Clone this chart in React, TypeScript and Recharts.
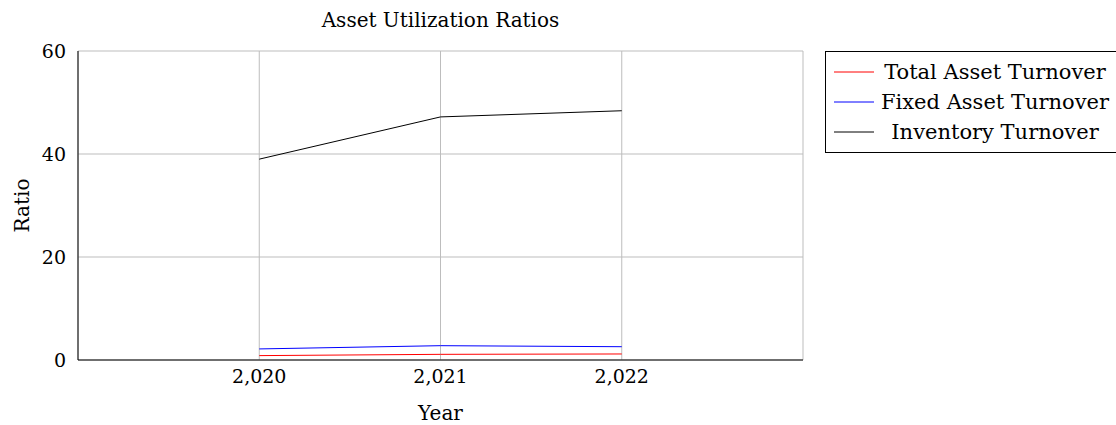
import React from 'react';
import { LineChart, Line, XAxis, YAxis, CartesianGrid, Label } from 'recharts';

const years = [2020, 2021, 2022];
const totalAssetTurnover = [0.85, 1.1, 1.17];
const fixedAssetTurnover = [2.15, 2.78, 2.58];
const inventoryTurnover = [39.0, 47.2, 48.4];
const yTicks = [0, 20, 40, 60];

const data = years.map((year, i) => ({
  year,
  total: totalAssetTurnover[i],
  fixed: fixedAssetTurnover[i],
  inventory: inventoryTurnover[i],
}));

const FONT = '"DejaVu Serif", "Liberation Serif", serif';

const legendItems = [
  { name: 'Total Asset Turnover', color: '#ff0000' },
  { name: 'Fixed Asset Turnover', color: '#0000ff' },
  { name: 'Inventory Turnover', color: '#000000' },
];

// legend drawn outside the svg so it doesn't shrink the plot
function LegendBox() {
  return (
    <div
      style={{
        position: 'absolute',
        left: 825,
        top: 51,
        width: 291,
        height: 102,
        border: '1px solid #000',
        borderRight: 'none',
        background: '#fff',
        padding: '5px 0 0 8px',
        fontSize: 21,
        boxSizing: 'border-box',
      }}
    >
      {legendItems.map((item) => (
        <div
          key={item.name}
          style={{ display: 'flex', alignItems: 'center', height: 30 }}
        >
          <svg width={40} height={4} style={{ flex: 'none' }}>
            <line x1={0} x2={40} y1={2} y2={2} stroke={item.color} strokeWidth={1} />
          </svg>
          <span style={{ flex: 1, textAlign: 'center', whiteSpace: 'nowrap' }}>
            {item.name}
          </span>
        </div>
      ))}
    </div>
  );
}

export default function App() {
  return (
    <div
      style={{
        position: 'absolute',
        left: 0,
        top: 0,
        width: 1116,
        height: 425,
        background: '#fff',
        fontFamily: FONT,
      }}
    >
      <div
        style={{
          position: 'absolute',
          left: 78,
          width: 725,
          top: 8,
          textAlign: 'center',
          fontSize: 20,
        }}
      >
        Asset Utilization Ratios
      </div>
      <LineChart
        width={1116}
        height={425}
        data={data}
        margin={{ top: 51, right: 313, bottom: 35, left: 18 }}
        style={{ fontFamily: FONT }}
      >
        <CartesianGrid stroke="#bdbdbd" strokeWidth={1} />
        <XAxis
          dataKey="year"
          type="number"
          domain={[2019, 2023]}
          ticks={years}
          tickFormatter={(v) => Number(v).toLocaleString('en-US')}
          tickLine={false}
          axisLine={{ stroke: '#000' }}
          tick={{ fill: '#000', fontSize: 19 }}
          tickMargin={4}
          height={30}
        >
          <Label value="Year" position="insideBottom" offset={-30} fill="#000" fontSize={20} />
        </XAxis>
        <XAxis
          xAxisId="top"
          orientation="top"
          type="number"
          domain={[2019, 2023]}
          ticks={years}
          tick={false}
          tickLine={false}
          axisLine={{ stroke: '#000' }}
          height={0}
        />
        <YAxis
          type="number"
          domain={[0, 60]}
          ticks={yTicks}
          tickLine={false}
          axisLine={{ stroke: '#000' }}
          tick={{ fill: '#000', fontSize: 19 }}
          tickMargin={6}
          width={60}
        >
          <Label
            value="Ratio"
            angle={-90}
            position="insideLeft"
            offset={4}
            fill="#000"
            fontSize={20}
            style={{ textAnchor: 'middle' }}
          />
        </YAxis>
        <YAxis
          yAxisId="right"
          orientation="right"
          domain={[0, 60]}
          tick={false}
          tickLine={false}
          axisLine={{ stroke: '#000' }}
          width={0}
        />
        <Line
          type="linear"
          dataKey="total"
          stroke="#ff0000"
          strokeWidth={1}
          dot={false}
          isAnimationActive={false}
        />
        <Line
          type="linear"
          dataKey="fixed"
          stroke="#0000ff"
          strokeWidth={1}
          dot={false}
          isAnimationActive={false}
        />
        <Line
          type="linear"
          dataKey="inventory"
          stroke="#000000"
          strokeWidth={1}
          dot={false}
          isAnimationActive={false}
        />
      </LineChart>
      <LegendBox />
    </div>
  );
}
